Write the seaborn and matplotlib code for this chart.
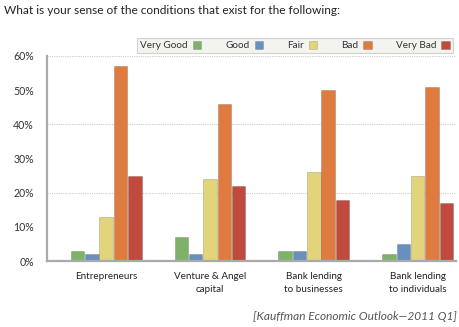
import matplotlib
matplotlib.use("Agg")
import matplotlib.pyplot as plt
import seaborn as sns
import pandas as pd
from matplotlib.patches import Patch

categories = ["Entrepreneurs", "Venture & Angel\ncapital", "Bank lending\nto businesses", "Bank lending\nto individuals"]
ratings = ["Very Good", "Good", "Fair", "Bad", "Very Bad"]
very_good = [3, 7, 3, 2]
good = [2, 2, 3, 5]
fair = [13, 24, 26, 25]
bad = [57, 46, 50, 51]
very_bad = [25, 22, 18, 17]
yticks = [0, 10, 20, 30, 40, 50, 60]
colors = ["#7eb269", "#6790bd", "#e2d47a", "#e07b3f", "#bf4a3d"]

series = [very_good, good, fair, bad, very_bad]
rows = []
for r, vals in zip(ratings, series):
    for c, v in zip(categories, vals):
        rows.append({"cat": c, "rating": r, "val": v})
df = pd.DataFrame(rows)

sns.set_style("white")
plt.rcParams["font.family"] = ["Lato", "DejaVu Sans"]

fig = plt.figure(figsize=(4.6, 3.27), dpi=100)
ax = fig.add_axes([47/460, 1-261/327, (456-47)/460, (261-56)/327])

sns.barplot(data=df, x="cat", y="val", hue="rating", hue_order=ratings,
            order=categories, palette=colors, width=0.69, gap=0.06,
            ax=ax, legend=False, linewidth=0.6, edgecolor="#00000030", saturation=1)

ax.set_xlim(-0.57, 3.37)
ax.set_ylim(0, 60)
ax.set_yticks(yticks)
ax.set_yticklabels([f"{t}%" for t in yticks], fontsize=7.6, color="#333333")
ax.tick_params(axis="y", direction="in", length=9, width=1.2, color="#b0b0b0", pad=9.5)
ax.tick_params(axis="x", length=0, pad=8, labelsize=7.1, labelcolor="#222222")
for lab in ax.get_xticklabels():
    lab.set_linespacing(1.6)
ax.set_xlabel("")
ax.set_ylabel("")
for g in [20, 40, 60]:
    ax.axhline(g, color="#cccccc", lw=0.8, ls=(0, (1, 1)), zorder=0)
for s in ["top", "right"]:
    ax.spines[s].set_visible(False)
for s in ["left", "bottom"]:
    ax.spines[s].set_color("#aaaaaa")
    ax.spines[s].set_linewidth(1.6)

handles = [Patch(facecolor=c, edgecolor="#00000030", linewidth=0.5) for c in colors]
leg = fig.legend(handles, ratings, loc="upper right", bbox_to_anchor=(458/460, 1-33/327),
                 ncol=5, markerfirst=False, frameon=True, fontsize=7.2,
                 handlelength=0.85, handleheight=0.85, handletextpad=0.5,
                 columnspacing=2.4, borderpad=0.3, fancybox=False)
leg.get_frame().set_facecolor("#f0f0ec")
leg.get_frame().set_edgecolor("#c8c8c8")
leg.get_frame().set_linewidth(0.8)
for t in leg.get_texts():
    t.set_color("#333333")

fig.text(4/460, 1-10/327, "What is your sense of the conditions that exist for the following:",
         fontsize=8.6, color="#222222", va="center", ha="left")
fig.text(457/460, 1-316/327, "[Kauffman Economic Outlook\u20142011 Q1]",
         fontsize=8.6, style="italic", color="#555555", va="center", ha="right")

fig.savefig("out.png", dpi=100)
